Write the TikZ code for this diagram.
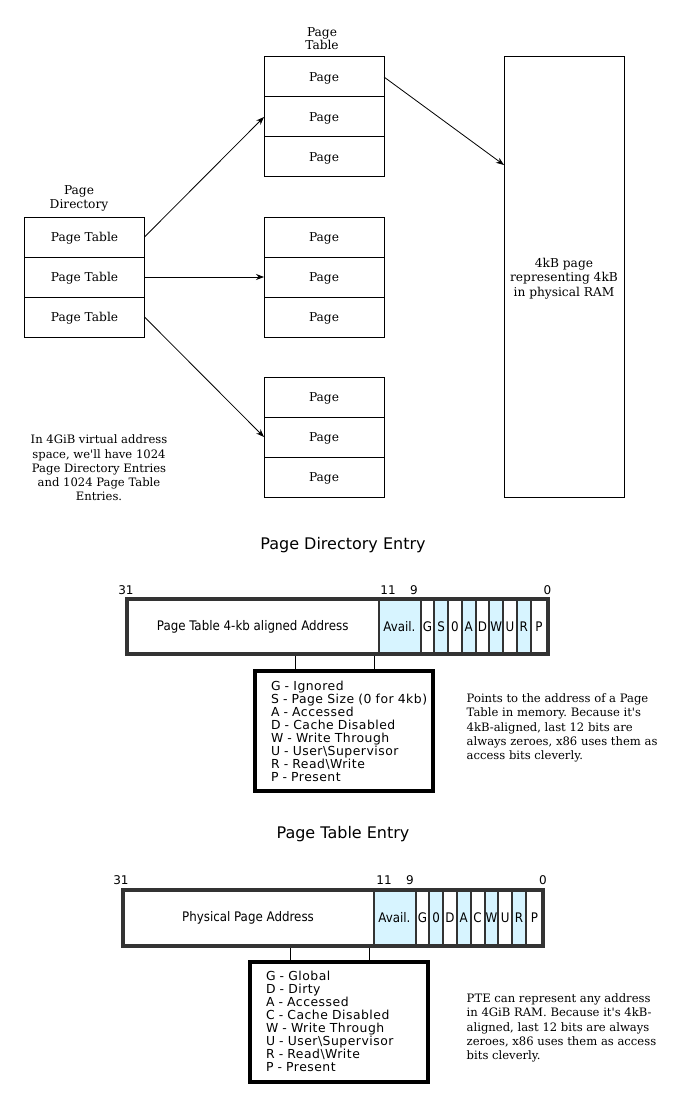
\documentclass[tikz,border=0pt]{standalone}
\usepackage{fontspec}
\setmainfont{DejaVu Serif}
\setsansfont{DejaVu Sans}
\newfontfamily\plainserif{DejaVu Serif}
\newfontfamily\condfont{DejaVu Sans Condensed}
\newfontfamily\legendfont{DejaVu Sans}[LetterSpace=4]
\usetikzlibrary{positioning,arrows.meta,fit}
\frenchspacing

\definecolor{bitblue}{RGB}{215,244,255}
\definecolor{bitgray}{RGB}{51,51,51}

\tikzset{
  slot/.style={draw, line width=1pt, minimum width=120pt, minimum height=40pt,
    inner sep=0pt, outer sep=0pt, text depth=0pt, font=\plainserif\fontsize{12.2}{14.5}\selectfont},
  link/.style={-{Stealth[length=8pt,width=6pt]}, line width=0.8pt},
  caption/.style={align=center, inner sep=0pt, font=\plainserif\fontsize{12.2}{13.5}\selectfont},
  note/.style={inner sep=0pt, font=\plainserif\fontsize{11.6}{14.3}\selectfont},
  bitcell/.style={draw=bitgray, line width=2pt, minimum height=55.5pt,
    inner sep=0pt, outer sep=0pt, font=\condfont\fontsize{13.2}{15}\selectfont},
  bitnum/.style={inner sep=0pt, font=\sffamily\fontsize{12}{14}\selectfont},
  heading/.style={inner sep=0pt, font=\sffamily\fontsize{16}{18}\selectfont},
  legend/.style={draw, line width=4pt, minimum width=178pt, minimum height=120pt,
    text width=146pt, align=left, inner sep=0pt, outer sep=0pt,
    font=\legendfont\fontsize{12.4}{13}\selectfont},
}

\begin{document}
\begin{tikzpicture}[x=1pt, y=-1pt]

    % Fix the page to the size of the reference
    \useasboundingbox (0,0) rectangle (689,1110);

    % Page directory with its three entries
    \node[slot] (pd1) at (84.5,237) {Page Table};
    \node[slot, below=0pt of pd1] (pd2) {Page Table};
    \node[slot, below=0pt of pd2] (pd3) {Page Table};
    \node[caption] (pdname) at (79,198.5) {Page\\Directory};

    % The three page tables
    \node[slot] (pt1a) at (324,77) {Page};
    \node[slot, below=0pt of pt1a] (pt1b) {Page};
    \node[slot, below=0pt of pt1b] (pt1c) {Page};
    \node[caption] (ptname) at (322,38.5) {Page\\Table};

    \node[slot] (pt2a) at (324,237) {Page};
    \node[slot, below=0pt of pt2a] (pt2b) {Page};
    \node[slot, below=0pt of pt2b] (pt2c) {Page};

    \node[slot] (pt3a) at (324,397) {Page};
    \node[slot, below=0pt of pt3a] (pt3b) {Page};
    \node[slot, below=0pt of pt3b] (pt3c) {Page};

    % The physical page
    \node[slot, minimum height=440pt, align=center] (frame) at (564,277)
      {4kB page\\representing 4kB\\in physical RAM};
    \coordinate (framein) at ([yshift=-108pt]frame.north west);

    % Arrows from directory to tables, and from a table to the page
    \draw[link] (pd1.east) -- (pt1b.west);
    \draw[link] (pd2.east) -- (pt2b.west);
    \draw[link] (pd3.east) -- (pt3b.west);
    \draw[link] (pt1a.east) -- (framein);

    % Side remark
    \node[note, align=center] (remark) at (99,468)
      {In 4GiB virtual address\\space, we'll have 1024\\Page Directory Entries\\and 1024 Page Table\\Entries.};

    % ---------------- Page Directory Entry ----------------
    \node[heading] (pdetitle) at (343,545) {Page Directory Entry};

    \node[bitcell, minimum width=251.5pt] (pdeaddr) at (252.75,626.5) {Page Table 4-kb aligned Address};
    \node[bitcell, fill=bitblue, minimum width=42pt, right=0pt of pdeaddr] (pdeavail) {Avail.};
    \foreach \lbl/\col [count=\i] in {G/white,S/bitblue,0/white,A/bitblue,D/white,W/bitblue,U/white,R/bitblue}
      \node[bitcell, fill=\col, minimum width=13.75pt] (pdebit\i) at ({420.5+13.75*(\i-0.5)},626.5) {\lbl};
    \node[bitcell, minimum width=17pt, right=0pt of pdebit8] (pdepres) {P};
    \node[fit=(pdeaddr)(pdepres), draw=bitgray, line width=4pt, inner sep=0pt] (pdebar) {};

    % Bit numbers
    \node[bitnum] (pdehi) at (126,590) {31};
    \node[bitnum] (pdeeleven) at (388,590) {11};
    \node[bitnum] (pdenine) at (414,590) {9};
    \node[bitnum] (pdelo) at (547.5,590) {0};

    % Legend of the flags
    \node[legend] (pdelegend) at (344,731) {G - Ignored\\\mbox{S - Page Size (0 for 4kb)}\\A - Accessed\\D - Cache Disabled\\W - Write Through\\U - User\textbackslash Supervisor\\R - Read\textbackslash Write\\P - Present};
    \coordinate (pdetapl) at ([xshift=-49pt]pdelegend.north);
    \coordinate (pdetapr) at ([xshift=30pt]pdelegend.north);
    \draw[line width=1pt] (pdetapl) -- (pdetapl |- pdebar.south);
    \draw[line width=1pt] (pdetapr) -- (pdetapr |- pdebar.south);

    \node[note, anchor=west, align=left] (pdenote) at (466.5,728)
      {Points to the address of a Page\\Table in memory. Because it's\\4kB-aligned, last 12 bits are\\always zeroes, x86 uses them as\\access bits cleverly.};

    % ---------------- Page Table Entry ----------------
    \node[heading] (ptetitle) at (343,834) {Page Table Entry};

    \node[bitcell, minimum width=251pt] (pteaddr) at (248,917.75) {Physical Page Address};
    \node[bitcell, fill=bitblue, minimum width=42pt, right=0pt of pteaddr] (pteavail) {Avail.};
    \foreach \lbl/\col [count=\i] in {G/white,0/bitblue,D/white,A/bitblue,C/white,W/bitblue,U/white,R/bitblue}
      \node[bitcell, fill=\col, minimum width=13.8pt] (ptebit\i) at ({415.5+13.8*(\i-0.5)},917.75) {\lbl};
    \node[bitcell, minimum width=17pt, right=0pt of ptebit8] (ptepres) {P};
    \node[fit=(pteaddr)(ptepres), draw=bitgray, line width=4pt, inner sep=0pt] (ptebar) {};

    % Bit numbers
    \node[bitnum] (ptehi) at (121,880) {31};
    \node[bitnum] (pteeleven) at (384,880) {11};
    \node[bitnum] (ptenine) at (410,880) {9};
    \node[bitnum] (ptelo) at (543,880) {0};

    % Legend of the flags
    \node[legend] (ptelegend) at (339,1021.5) {G - Global\\D - Dirty\\A - Accessed\\C - Cache Disabled\\W - Write Through\\U - User\textbackslash Supervisor\\R - Read\textbackslash Write\\P - Present};
    \coordinate (ptetapl) at ([xshift=-49pt]ptelegend.north);
    \coordinate (ptetapr) at ([xshift=30pt]ptelegend.north);
    \draw[line width=1pt] (ptetapl) -- (ptetapl |- ptebar.south);
    \draw[line width=1pt] (ptetapr) -- (ptetapr |- ptebar.south);

    \node[note, anchor=west, align=left] (ptenote) at (466.5,1028)
      {PTE can represent any address\\in 4GiB RAM. Because it's 4kB-\\aligned, last 12 bits are always\\zeroes, x86 uses them as access\\bits cleverly.};

\end{tikzpicture}
\end{document}
